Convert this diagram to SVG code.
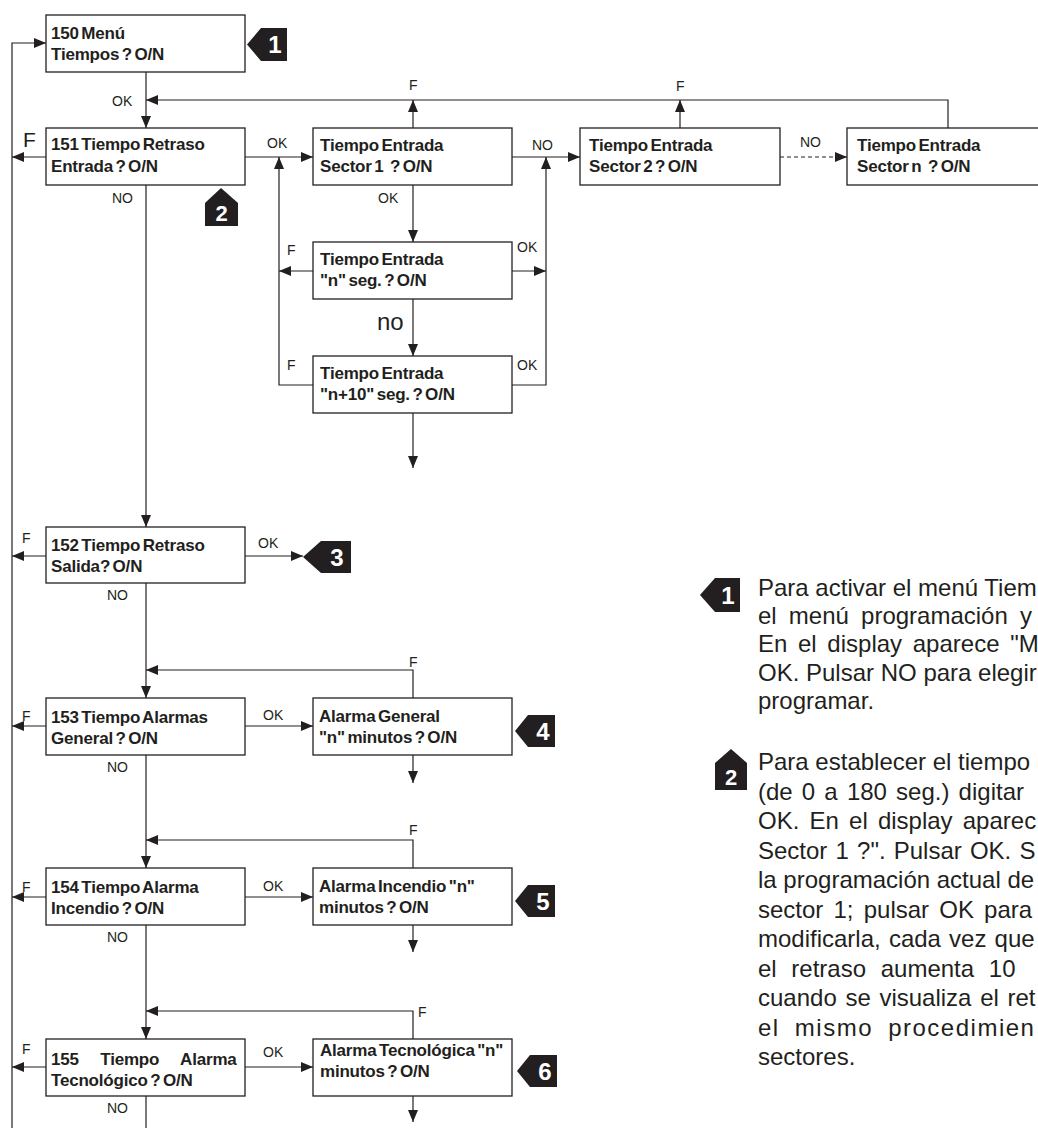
<svg xmlns="http://www.w3.org/2000/svg" width="1038" height="1128" viewBox="0 0 1038 1128">
<style>
.box{fill:#fff;stroke:#231f20;stroke-width:1.3}
.ln{fill:none;stroke:#231f20;stroke-width:1.2}
.dash{stroke-dasharray:4 3}
.bt{font-family:"Liberation Sans",Arial,Helvetica,sans-serif;font-weight:bold;font-size:17px;letter-spacing:-0.2px;word-spacing:-2px;fill:#231f20}
.lb{font-family:"Liberation Sans",Arial,Helvetica,sans-serif;font-size:14px;fill:#231f20}
.bd{fill:#231f20}
.bn{font-family:"Liberation Sans",Arial,Helvetica,sans-serif;font-weight:bold;font-size:24px;fill:#fff;text-anchor:middle}
.pt{font-family:"Liberation Sans",Arial,Helvetica,sans-serif;font-size:24px;fill:#231f20}
</style>
<defs>
<marker id="ah" viewBox="0 0 12 10" refX="12" refY="5" markerWidth="12" markerHeight="10" markerUnits="userSpaceOnUse" orient="auto">
<path d="M0,0 L12,5 L0,10 Z" fill="#231f20"/>
</marker>
</defs>
<rect width="1038" height="1128" fill="#fff"/>

<g id="connectors">
<path class="ln" d="M12,1128 V43 H46" marker-end="url(#ah)"/>
<path class="ln" d="M146,72 V128" marker-end="url(#ah)"/>
<path class="ln" d="M948,128 V100 H146" marker-end="url(#ah)"/>
<path class="ln" d="M413,128 V100" marker-end="url(#ah)"/>
<path class="ln" d="M680,128 V100" marker-end="url(#ah)"/>
<path class="ln" d="M46,157 H12" marker-end="url(#ah)"/>
<path class="ln" d="M245,157 H313" marker-end="url(#ah)"/>
<path class="ln" d="M512,157 H580" marker-end="url(#ah)"/>
<path class="ln dash" d="M780,157 H847" marker-end="url(#ah)"/>
<path class="ln" d="M413,185 V242" marker-end="url(#ah)"/>
<path class="ln" d="M313,271 H279" marker-end="url(#ah)"/>
<path class="ln" d="M512,271 H546" marker-end="url(#ah)"/>
<path class="ln" d="M413,299 V356" marker-end="url(#ah)"/>
<path class="ln" d="M313,385 H279 V157" marker-end="url(#ah)"/>
<path class="ln" d="M512,385 H546 V157" marker-end="url(#ah)"/>
<path class="ln" d="M413,413 V468" marker-end="url(#ah)"/>
<path class="ln" d="M146,185 V527" marker-end="url(#ah)"/>
<path class="ln" d="M46,556 H12" marker-end="url(#ah)"/>
<path class="ln" d="M245,556 H303" marker-end="url(#ah)"/>
<path class="ln" d="M146,583 V698" marker-end="url(#ah)"/>
<path class="ln" d="M413,698 V670 H146" marker-end="url(#ah)"/>
<path class="ln" d="M46,726 H12" marker-end="url(#ah)"/>
<path class="ln" d="M245,726 H313" marker-end="url(#ah)"/>
<path class="ln" d="M413,755 V783" marker-end="url(#ah)"/>
<path class="ln" d="M146,755 V868" marker-end="url(#ah)"/>
<path class="ln" d="M413,868 V840 H146" marker-end="url(#ah)"/>
<path class="ln" d="M46,897 H12" marker-end="url(#ah)"/>
<path class="ln" d="M245,897 H313" marker-end="url(#ah)"/>
<path class="ln" d="M413,925 V952" marker-end="url(#ah)"/>
<path class="ln" d="M146,925 V1039" marker-end="url(#ah)"/>
<path class="ln" d="M413,1039 V1011 H146" marker-end="url(#ah)"/>
<path class="ln" d="M46,1067 H12" marker-end="url(#ah)"/>
<path class="ln" d="M245,1067 H313" marker-end="url(#ah)"/>
<path class="ln" d="M413,1096 V1122" marker-end="url(#ah)"/>
<path class="ln" d="M146,1096 V1128"/>
</g>

<g id="labels">
<text class="lb" x="112" y="106">OK</text>
<text class="lb" x="23" y="147" style="font-size:21px">F</text>
<text class="lb" x="112" y="203">NO</text>
<text class="lb" x="267" y="148">OK</text>
<text class="lb" x="409" y="90">F</text>
<text class="lb" x="676" y="91">F</text>
<text class="lb" x="532" y="150">NO</text>
<text class="lb" x="800" y="147">NO</text>
<text class="lb" x="378" y="203">OK</text>
<text class="lb" x="287" y="255">F</text>
<text class="lb" x="517" y="252">OK</text>
<text class="lb" x="377" y="330" style="font-size:24px">no</text>
<text class="lb" x="287" y="370">F</text>
<text class="lb" x="517" y="370">OK</text>
<text class="lb" x="22" y="543">F</text>
<text class="lb" x="258" y="548">OK</text>
<text class="lb" x="107" y="600">NO</text>
<text class="lb" x="409" y="667">F</text>
<text class="lb" x="22" y="721">F</text>
<text class="lb" x="263" y="720">OK</text>
<text class="lb" x="107" y="772">NO</text>
<text class="lb" x="409" y="835">F</text>
<text class="lb" x="22" y="892">F</text>
<text class="lb" x="263" y="891">OK</text>
<text class="lb" x="107" y="942">NO</text>
<text class="lb" x="418" y="1017">F</text>
<text class="lb" x="22" y="1054">F</text>
<text class="lb" x="263" y="1057">OK</text>
<text class="lb" x="107" y="1113">NO</text>
</g>

<g id="n150"><rect class="box" x="46" y="15" width="199" height="57"/><text class="bt" x="51" y="39">150 Menú</text><text class="bt" x="51" y="60">Tiempos ? O/N</text></g>
<g id="n151"><rect class="box" x="46" y="128" width="199" height="57"/><text class="bt" x="51" y="150">151 Tiempo Retraso</text><text class="bt" x="51" y="172">Entrada ? O/N</text></g>
<g id="s1"><rect class="box" x="313" y="128" width="199" height="57"/><text class="bt" x="320" y="151">Tiempo Entrada</text><text class="bt" x="320" y="172">Sector 1 <tspan dx="4">? O/N</tspan></text></g>
<g id="s2"><rect class="box" x="580" y="128" width="200" height="57"/><text class="bt" x="589" y="151">Tiempo Entrada</text><text class="bt" x="589" y="172">Sector 2 ? O/N</text></g>
<g id="sn"><rect class="box" x="847" y="128" width="200" height="57"/><text class="bt" x="857" y="151">Tiempo Entrada</text><text class="bt" x="857" y="172">Sector n <tspan dx="4">? O/N</tspan></text></g>
<g id="nseg"><rect class="box" x="313" y="242" width="199" height="57"/><text class="bt" x="320" y="265">Tiempo Entrada</text><text class="bt" x="320" y="286">"n" seg. ? O/N</text></g>
<g id="n10seg"><rect class="box" x="313" y="356" width="199" height="57"/><text class="bt" x="320" y="379">Tiempo Entrada</text><text class="bt" x="320" y="400">"n+10" seg. ? O/N</text></g>
<g id="n152"><rect class="box" x="46" y="527" width="199" height="56"/><text class="bt" x="51" y="551">152 Tiempo Retraso</text><text class="bt" x="51" y="572">Salida? O/N</text></g>
<g id="n153"><rect class="box" x="46" y="698" width="199" height="57"/><text class="bt" x="51" y="723">153 Tiempo Alarmas</text><text class="bt" x="51" y="744">General ? O/N</text></g>
<g id="ag"><rect class="box" x="313" y="698" width="199" height="57"/><text class="bt" x="319" y="722">Alarma General</text><text class="bt" x="319" y="743">"n" minutos ? O/N</text></g>
<g id="n154"><rect class="box" x="46" y="868" width="199" height="57"/><text class="bt" x="51" y="893">154 Tiempo Alarma</text><text class="bt" x="51" y="914">Incendio ? O/N</text></g>
<g id="ai"><rect class="box" x="313" y="868" width="199" height="57"/><text class="bt" x="319" y="892">Alarma Incendio "n"</text><text class="bt" x="319" y="913">minutos ? O/N</text></g>
<g id="n155"><rect class="box" x="46" y="1039" width="199" height="57"/><text class="bt" x="51" y="1065" style="word-spacing:17px">155 Tiempo Alarma</text><text class="bt" x="51" y="1086">Tecnológico ? O/N</text></g>
<g id="at"><rect class="box" x="313" y="1039" width="199" height="57"/><text class="bt" x="320" y="1056">Alarma Tecnológica "n"</text><text class="bt" x="320" y="1077">minutos ? O/N</text></g>

<g id="b1"><path class="bd" d="M247,44.5 L261,28 H287 V61 H261 Z"/><text class="bn" x="275" y="53">1</text></g>
<g id="b2"><path class="bd" d="M205,203 L221,188 L238,203 V226 H205 Z"/><text class="bn" x="221.5" y="221" style="font-size:22px">2</text></g>
<g id="b3"><path class="bd" d="M303,557 L321,541 H351 V573 H321 Z"/><text class="bn" x="337" y="566">3</text></g>
<g id="b4"><path class="bd" d="M515,731 L528,715 H555 V747 H528 Z"/><text class="bn" x="543" y="740">4</text></g>
<g id="b5"><path class="bd" d="M515,901 L528,885 H555 V917 H528 Z"/><text class="bn" x="543" y="910">5</text></g>
<g id="b6"><path class="bd" d="M517,1071 L530,1055 H557 V1087 H530 Z"/><text class="bn" x="545" y="1080">6</text></g>

<g id="note1">
<path class="bd" d="M700,595 L715,578 H740 V612 H715 Z"/><text class="bn" x="728" y="604">1</text>
<text class="pt" x="758" y="596">Para activar el menú Tiem</text>
<text class="pt" x="758" y="624" style="word-spacing:5.5px">el menú programación y</text>
<text class="pt" x="758" y="652" style="word-spacing:4px">En el display aparece "M</text>
<text class="pt" x="758" y="681">OK. Pulsar NO para elegir</text>
<text class="pt" x="758" y="709">programar.</text>
</g>
<g id="note2">
<path class="bd" d="M715,763 L731,749 L747,763 V790 H715 Z"/><text class="bn" x="731" y="785" style="font-size:22px">2</text>
<text class="pt" x="758" y="770">Para establecer el tiempo</text>
<text class="pt" x="758" y="799.5" style="word-spacing:2.5px">(de 0 a 180 seg.) digitar</text>
<text class="pt" x="758" y="829" style="word-spacing:3.5px">OK. En el display aparec</text>
<text class="pt" x="758" y="858.5" style="word-spacing:1.5px">Sector 1 ?". Pulsar OK. S</text>
<text class="pt" x="758" y="888" style="word-spacing:0px">la programación actual de</text>
<text class="pt" x="758" y="917.5" style="word-spacing:3.5px">sector 1; pulsar OK para</text>
<text class="pt" x="758" y="947" style="word-spacing:1.5px">modificarla, cada vez que</text>
<text class="pt" x="758" y="976.5" style="word-spacing:8px">el retraso aumenta 10</text>
<text class="pt" x="758" y="1006" style="word-spacing:2px">cuando se visualiza el ret</text>
<text class="pt" x="758" y="1035.5" style="letter-spacing:1.5px;word-spacing:7px">el mismo procedimien</text>
<text class="pt" x="758" y="1065">sectores.</text>
</g>
</svg>
